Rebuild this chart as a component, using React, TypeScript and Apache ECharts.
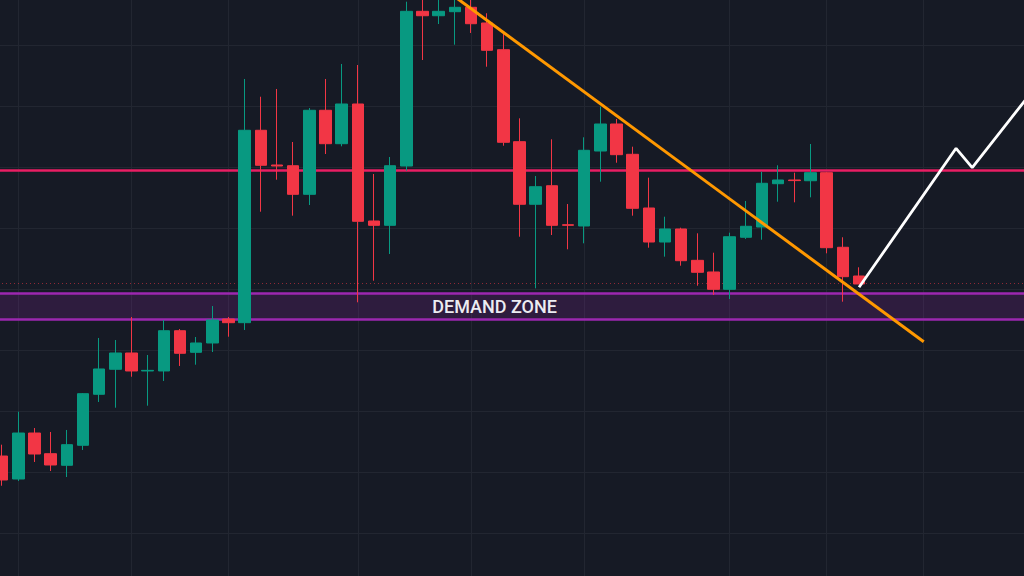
import React, { useEffect, useRef } from "react";
import * as echarts from "echarts";

// OHLC: [open, close, low, high]
const candles: number[][] = [
  [72.62, 68.69, 67.75, 74.48],
  [68.85, 76.39, 68.52, 79.89],
  [76.39, 72.95, 71.64, 77.21],
  [73.0, 71.15, 70.16, 76.56],
  [71.1, 74.48, 69.18, 76.89],
  [74.38, 82.84, 73.61, 82.95],
  [82.74, 86.89, 81.48, 91.97],
  [86.84, 89.51, 80.54, 91.64],
  [89.51, 86.56, 85.62, 95.41],
  [86.56, 86.66, 80.87, 89.18],
  [86.56, 93.16, 84.92, 94.92],
  [93.16, 89.46, 87.38, 93.44],
  [89.62, 91.15, 87.59, 92.13],
  [91.15, 94.92, 89.67, 97.21],
  [95.08, 94.48, 92.18, 95.41],
  [94.48, 126.02, 93.28, 134.43],
  [126.02, 120.28, 112.67, 131.52],
  [120.33, 120.16, 117.92, 132.79],
  [120.21, 115.52, 112.02, 124.1],
  [115.52, 129.3, 113.77, 129.67],
  [129.3, 123.82, 122.13, 134.43],
  [123.82, 130.33, 123.39, 136.89],
  [130.33, 111.1, 97.82, 136.72],
  [111.15, 110.44, 101.36, 118.85],
  [110.44, 120.21, 105.74, 121.64],
  [120.16, 145.52, 119.39, 147.1],
  [145.52, 144.8, 137.54, 148.2],
  [144.8, 145.52, 143.44, 147.87],
  [145.46, 146.18, 140.05, 148.2],
  [146.18, 143.49, 141.97, 147.7],
  [143.61, 139.13, 136.44, 145.2],
  [139.23, 124.05, 123.49, 141.97],
  [124.15, 113.89, 108.57, 127.98],
  [113.89, 116.77, 100.11, 118.52],
  [116.93, 110.44, 108.85, 124.54],
  [110.54, 110.44, 106.51, 113.93],
  [110.33, 122.74, 107.49, 124.87],
  [122.62, 127.05, 117.59, 129.89],
  [127.05, 122.02, 120.7, 127.87],
  [122.08, 113.23, 112.02, 123.33],
  [113.28, 107.7, 106.77, 118.25],
  [107.7, 109.84, 105.3, 111.85],
  [109.84, 104.64, 103.82, 110.05],
  [104.7, 102.74, 100.54, 109.13],
  [102.79, 99.95, 99.02, 105.95],
  [99.95, 108.57, 98.36, 109.23],
  [108.48, 110.28, 108.2, 114.43],
  [110.16, 117.33, 108.08, 119.23],
  [117.26, 117.87, 114.31, 120.28],
  [117.87, 117.77, 114.21, 119.07],
  [117.75, 119.07, 115.03, 123.77],
  [119.07, 106.77, 105.85, 119.18],
  [106.84, 102.02, 97.92, 108.48],
  [102.13, 100.82, 100.82, 103.56],
];

const totalSlots = 65;
const categories: string[] = Array.from({ length: totalSlots }, (_, i) => String(i));

// levels
const resistanceLevel = 119.39;
const dottedLevel = 100.9;
const demandTop = 99.23;
const demandBottom = 95.03;
const demandLabel = "DEMAND ZONE";

// trend line (orange) and projection (white): [slot index, price]
const trendLine: number[][] = [
  [27, 149.87],
  [57, 91.36],
];
const projection: number[][] = [
  [53, 100.28],
  [59, 123.07],
  [60, 119.89],
  [64, 133.39],
];

// vertical grid positions (slot indices)
const vGrid: number[] = [1, 8, 14, 22, 29, 36, 45, 51, 57];

const UP = "#089981";
const DOWN = "#f23645";
const BG = "#161a25";
const GRID = "#222631";

// the plot extends past the visible window on every side
const OFF_X = -6.085;
const OFF_Y = -16;
const W = 1051.05;
const H = 610;

export default function App() {
  const ref = useRef<HTMLDivElement>(null);
  useEffect(() => {
    document.body.style.margin = "0";
    document.body.style.background = BG;
    if (!ref.current) return;
    const chart = echarts.init(ref.current, undefined, { renderer: "svg" });
    chart.setOption({
      animation: false,
      backgroundColor: BG,
      grid: { left: 0, right: 0, top: 0, bottom: 0 },
      xAxis: {
        type: "category",
        data: categories,
        boundaryGap: true,
        axisLine: { show: false },
        axisTick: { show: false },
        axisLabel: { show: false },
        splitLine: { show: false },
      },
      yAxis: {
        type: "value",
        min: 50,
        max: 150,
        interval: 10,
        axisLine: { show: false },
        axisTick: { show: false },
        axisLabel: { show: false },
        splitLine: { show: true, lineStyle: { color: GRID, width: 1 } },
      },
      series: [
        {
          type: "line",
          data: [],
          z: 1,
          silent: true,
          markLine: {
            z: 0,
            silent: true,
            symbol: "none",
            label: { show: false },
            lineStyle: { color: GRID, width: 1, type: "solid" },
            data: vGrid.map((v) => ({ xAxis: v })),
          },
        },
        {
          type: "line",
          data: [],
          z: 2,
          silent: true,
          markArea: {
            z: 1,
            silent: true,
            itemStyle: { color: "rgba(156,39,176,0.18)" },
            label: { show: false },
            data: [[{ yAxis: demandTop }, { yAxis: demandBottom }]],
          },
          markLine: {
            z: 1,
            silent: true,
            symbol: "none",
            label: { show: false },
            data: [
              { yAxis: resistanceLevel, lineStyle: { color: "#e91e63", width: 2.6, type: "solid" } },
              { yAxis: dottedLevel, lineStyle: { color: "rgba(242,54,69,0.55)", width: 1, type: [1, 3] } },
              { yAxis: demandTop, lineStyle: { color: "#9c27b0", width: 2.6, type: "solid" } },
              { yAxis: demandBottom, lineStyle: { color: "#9c27b0", width: 2.6, type: "solid" } },
            ],
          },
        },
        {
          type: "candlestick",
          data: candles,
          z: 3,
          barWidth: 12,
          itemStyle: {
            color: UP,
            color0: DOWN,
            borderColor: UP,
            borderColor0: DOWN,
            borderWidth: 1,
          },
        },
        {
          type: "line",
          data: trendLine,
          z: 4,
          symbol: "none",
          silent: true,
          lineStyle: { color: "#ff9800", width: 3 },
        },
        {
          type: "line",
          data: projection,
          z: 5,
          symbol: "none",
          silent: true,
          lineStyle: { color: "#ffffff", width: 2.8 },
        },
      ],
      graphic: [
        {
          type: "text",
          x: 494.5 - OFF_X,
          y: 306.5 - OFF_Y,
          z: 10,
          style: {
            text: demandLabel,
            fill: "#ececf2",
            font: "500 18px Roboto",
            textAlign: "center",
            textVerticalAlign: "middle",
          },
        },
      ],
    });
    return () => chart.dispose();
  }, []);
  return (
    <div
      ref={ref}
      style={{ position: "fixed", left: OFF_X, top: OFF_Y, width: W, height: H }}
    />
  );
}
